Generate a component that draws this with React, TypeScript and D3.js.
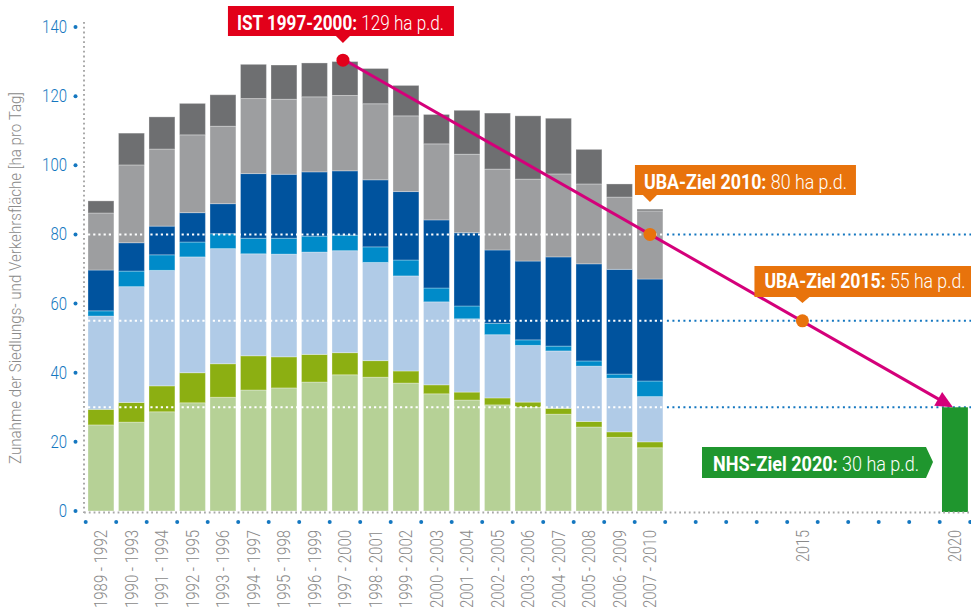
import React from "react";
import * as d3 from "d3";

// ---------- DATA ----------
const categories = [
  "1989 - 1992", "1990 - 1993", "1991 - 1994", "1992 - 1995", "1993 - 1996",
  "1994 - 1997", "1995 - 1998", "1996 - 1999", "1997 - 2000", "1998 - 2001",
  "1999 - 2002", "2000 - 2003", "2001 - 2004", "2002 - 2005", "2003 - 2006",
  "2004 - 2007", "2005 - 2008", "2006 - 2009", "2007 - 2010",
];
const futureYears = ["2011", "2012", "2013", "2014", "2015", "2016", "2017", "2018", "2019", "2020"];
const labeledFutureYears = ["2015", "2020"];

const lightGreen = [24.9, 25.7, 28.7, 31.3, 32.9, 35.0, 35.6, 37.3, 39.4, 38.7, 37.0, 33.9, 32.1, 30.7, 30.0, 28.0, 24.3, 21.3, 18.3];
const olive =      [4.5, 5.7, 7.5, 8.7, 9.7, 9.9, 9.0, 8.0, 6.4, 4.8, 3.5, 2.6, 2.3, 2.0, 1.5, 1.7, 1.6, 1.6, 1.7];
const lightBlue =  [27.0, 33.5, 33.4, 33.5, 33.3, 29.5, 29.7, 29.6, 29.5, 28.4, 27.5, 24.0, 21.2, 18.3, 16.4, 16.6, 16.0, 15.5, 13.1];
const midBlue =    [1.5, 4.5, 4.5, 4.3, 4.3, 4.5, 4.6, 4.6, 4.5, 4.5, 4.6, 4.0, 3.7, 3.3, 1.6, 1.4, 1.5, 1.2, 4.5];
const darkBlue =   [11.8, 8.2, 8.3, 8.5, 8.7, 18.7, 18.5, 18.6, 18.6, 19.4, 19.8, 19.7, 21.2, 21.2, 22.8, 25.8, 28.1, 30.3, 29.5];
const lightGrey =  [16.5, 22.5, 22.3, 22.5, 22.4, 21.7, 21.7, 21.7, 21.8, 22.0, 21.9, 22.0, 22.7, 23.4, 23.7, 24.0, 23.1, 20.9, 19.7];
const darkGrey =   [3.5, 9.2, 9.3, 9.1, 9.1, 9.9, 9.9, 9.8, 9.8, 10.2, 8.8, 8.5, 12.7, 16.2, 18.3, 16.1, 10.0, 3.8, 0.5];

const seriesKeys = ["lightGreen", "olive", "lightBlue", "midBlue", "darkBlue", "lightGrey", "darkGrey"];
const seriesValues = [lightGreen, olive, lightBlue, midBlue, darkBlue, lightGrey, darkGrey];
const seriesColors = ["#b6d196", "#8caf12", "#b0cbe7", "#008bc9", "#00539e", "#9d9ea0", "#6e6f71"];

const yTicks = [0, 20, 40, 60, 80, 100, 120, 140];
const targetLevels = [80, 55, 30];

const istCategory = "1997 - 2000";
const istValue = 129;
const istMarkerValue = 130.4;
const targetYear2010 = "2007 - 2010";
const target2010 = 80;
const targetYear2015 = "2015";
const target2015 = 55;
const targetYear2020 = "2020";
const target2020 = 30;

const yTitle = "Zunahme der Siedlungs- und Verkehrsfläche [ha pro Tag]";

// ---------- LAYOUT ----------
const W = 971, H = 613;
const FONT = "Roboto, 'Noto Sans', sans-serif";
const PINK = "#d4007a";
const RED = "#e2001a";
const ORANGE = "#e8730c";
const GREEN = "#1f962e";
const BLUE = "#1477c0";
const GREYTXT = "#8a8a8a";

export default function App() {
  const slots = [...categories, ...futureYears];
  const x = d3.scaleBand<string>().domain(slots).range([85.7, 970.2]).paddingInner(0.15).paddingOuter(0.075);
  const y = d3.scaleLinear().domain([0, 140]).range([511, 27]);
  const step = x.step();
  const xc = (k: string) => (x(k) as number) + x.bandwidth() / 2;

  const table = categories.map((c, i) => {
    const row: any = { cat: c };
    seriesKeys.forEach((k, j) => (row[k] = seriesValues[j][i]));
    return row;
  });
  const stacked = d3.stack<any>().keys(seriesKeys)(table);

  const lastBarRight = (x(categories[categories.length - 1]) as number) + x.bandwidth() + 2;
  const firstBarLeft = x(categories[0]) as number;

  const p0 = { x: xc(istCategory), y: y(istMarkerValue) };
  const p1 = { x: xc(targetYear2020) - 2, y: y(target2020) };
  const line = d3.line<{ x: number; y: number }>().x((d) => d.x).y((d) => d.y);
  const ang = Math.atan2(p1.y - p0.y, p1.x - p0.x);
  const headLen = 17;
  const lineEnd = { x: p1.x - Math.cos(ang) * (headLen - 2), y: p1.y - Math.sin(ang) * (headLen - 2) };
  const perp = ang + Math.PI / 2;
  const hb = { x: p1.x - Math.cos(ang) * headLen, y: p1.y - Math.sin(ang) * headLen };
  const arrowHead = `M${p1.x},${p1.y}L${hb.x + Math.cos(perp) * 8},${hb.y + Math.sin(perp) * 8}L${hb.x - Math.cos(perp) * 8},${hb.y - Math.sin(perp) * 8}Z`;

  const axisLeft = 84;

  const downBox = (x0: number, x1: number, y0: number, y1: number, px: number, tipY: number) =>
    `M${x0},${y0}H${x1}V${y1}H${px + 7}L${px},${tipY}L${px - 7},${y1}H${x0}Z`;

  const ist = { px: p0.x - 2, x0: p0.x - 117, x1: p0.x + 109, y0: 6, y1: 36 };
  const u10x = xc(targetYear2010), u10y = y(target2010);
  const u15x = xc(targetYear2015), u15y = y(target2015);
  const greenX = x(targetYear2020) as number;

  const labelLen = (s: string) => (s.length <= 4 ? 32 : 78);

  return (
    <svg width={W} height={H} style={{ display: "block", position: "absolute", left: 0, top: 0 }} fontFamily={FONT}>
      <rect width={W} height={H} fill="#fff" />
      {/* y title */}
      <text transform={`translate(21,${278}) rotate(-90)`} textAnchor="middle" fontSize={16} fontWeight={300} fill={GREYTXT}
        textLength={372} lengthAdjust="spacingAndGlyphs">{yTitle}</text>

      {/* y ticks */}
      {yTicks.map((t) => (
        <g key={t}>
          <text x={67} y={y(t) + 6} textAnchor="end" fontSize={18} fontWeight={300} fill={BLUE}
            textLength={String(t).length * 8.3} lengthAdjust="spacingAndGlyphs">{t}</text>
          <circle cx={75.5} cy={y(t)} r={2} fill={BLUE} />
        </g>
      ))}

      {/* bars */}
      {stacked.map((s, j) => (
        <g key={s.key} fill={seriesColors[j]}>
          {s.map((d, i) => (
            <rect key={i} x={x(categories[i])} width={x.bandwidth()} y={y(d[1])} height={y(d[0]) - y(d[1])}
              stroke="rgba(255,255,255,0.3)" strokeWidth={1} />
          ))}
        </g>
      ))}

      {/* target dotted lines */}
      {targetLevels.map((v) => (
        <g key={v}>
          <line x1={firstBarLeft} x2={lastBarRight} y1={y(v)} y2={y(v)} stroke="#fff" strokeWidth={2} strokeDasharray="2.2 3" />
          <line x1={lastBarRight + 2} x2={W} y1={y(v)} y2={y(v)} stroke={BLUE} strokeWidth={2} strokeDasharray="2 3.5" />
        </g>
      ))}

      {/* green 2020 bar */}
      <rect x={greenX} width={x.bandwidth()} y={y(target2020)} height={y(0) - y(target2020) + 1} fill={GREEN} />

      {/* axes dotted */}
      <line x1={axisLeft} x2={axisLeft} y1={22} y2={513} stroke="#a9a9a9" strokeWidth={2} strokeDasharray="1.8 3" />
      <line x1={axisLeft} x2={W} y1={512.5} y2={512.5} stroke="#a9a9a9" strokeWidth={2} strokeDasharray="1.8 3" />

      {/* x tick dots */}
      {d3.range(slots.length + 1).map((i) => (
        <circle key={i} cx={(x(slots[0]) as number) - (step - x.bandwidth()) / 2 + i * step} cy={522} r={2} fill={BLUE} />
      ))}

      {/* x labels */}
      {slots.map((s) => {
        if (!categories.includes(s) && !labeledFutureYears.includes(s)) return null;
        return (
          <text key={s} transform={`translate(${xc(s) + 6.5},530) rotate(-90)`} textAnchor="end" fontSize={18} fontWeight={300}
            fill={GREYTXT} textLength={labelLen(s)} lengthAdjust="spacingAndGlyphs">{s}</text>
        );
      })}

      {/* pink trend line */}
      <path d={line([p0, lineEnd]) as string} stroke={PINK} strokeWidth={3} fill="none" />
      <path d={arrowHead} fill={PINK} />

      {/* markers */}
      <circle cx={p0.x - 2} cy={p0.y} r={6.5} fill={RED} />
      <circle cx={u10x} cy={u10y} r={6.5} fill={ORANGE} />
      <circle cx={u15x} cy={u15y} r={6.5} fill={ORANGE} />

      {/* IST callout */}
      <path d={downBox(ist.x0, ist.x1, ist.y0, ist.y1, ist.px, 43)} fill={RED} />
      <text x={ist.x0 + 9} y={30} fontSize={21} fill="#fff" textLength={207} lengthAdjust="spacingAndGlyphs">
        <tspan fontWeight="bold">IST 1997-2000:</tspan><tspan fontWeight={300}> {istValue} ha p.d.</tspan>
      </text>

      {/* UBA 2010 callout */}
      <path d={downBox(u10x - 15, u10x + 206, 165, 195, u10x, 202)} fill={ORANGE} />
      <text x={u10x - 6} y={188.5} fontSize={20} fill="#fff" textLength={203} lengthAdjust="spacingAndGlyphs">
        <tspan fontWeight="bold">UBA-Ziel 2010:</tspan><tspan fontWeight={300}> {target2010} ha p.d.</tspan>
      </text>

      {/* UBA 2015 callout */}
      <path d={downBox(u15x - 48, W, 266, 297, u15x, 303)} fill={ORANGE} />
      <text x={u15x - 38} y={288} fontSize={20} fill="#fff" textLength={201} lengthAdjust="spacingAndGlyphs">
        <tspan fontWeight="bold">UBA-Ziel 2015:</tspan><tspan fontWeight={300}> {target2015} ha p.d.</tspan>
      </text>

      {/* NHS callout */}
      <path d={`M702,447H926L933,462L926,478H702Z`} fill={GREEN} />
      <text x={713} y={470.5} fontSize={20} fill="#fff" textLength={206} lengthAdjust="spacingAndGlyphs">
        <tspan fontWeight="bold">NHS-Ziel 2020:</tspan><tspan fontWeight={300}> {target2020} ha p.d.</tspan>
      </text>
    </svg>
  );
}
